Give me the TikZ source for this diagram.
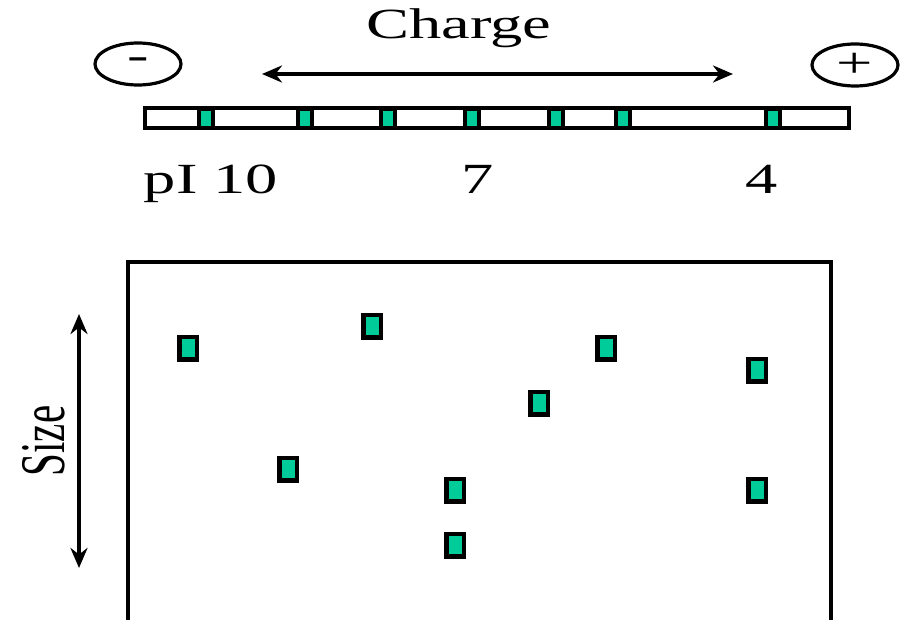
\documentclass[tikz,border=0pt]{standalone}
\usepackage{fontspec}
\setmainfont{Liberation Serif}
\usepackage{graphicx}
\usetikzlibrary{shapes.geometric,arrows.meta}
\definecolor{spotgreen}{RGB}{0,204,153}
\newcommand{\wide}[1]{\scalebox{1.5}[1]{#1}}
\tikzset{
  lbl/.style={inner sep=0pt, font=\fontsize{43}{46}\selectfont},
  pole/.style={ellipse, draw, line width=3.2pt, minimum width=86pt, minimum height=42pt, inner sep=0pt,
    font=\fontsize{43}{46}\selectfont},
  stripbox/.style={draw, line width=4pt, fill=white},
  band/.style={rectangle, draw, line width=4pt, fill=spotgreen, minimum width=14pt, minimum height=19pt, inner sep=0pt},
  spot/.style={rectangle, draw, line width=4.5pt, fill=spotgreen, minimum width=17.5pt, minimum height=22.5pt, inner sep=0pt},
  axis/.style={line width=3.5pt, {Stealth[length=20pt,width=17pt]}-{Stealth[length=20pt,width=17pt]}}
}
\begin{document}
\begin{tikzpicture}[x=1pt,y=-1pt]
  \useasboundingbox (0,0) rectangle (907,620);
  \clip (0,0) rectangle (907,620);

  % charge axis and electrode signs
  \node[lbl] (charge) at (459,28) {\wide{Charge}};
  \node[pole] (minus) at (138,64) {\wide{-}};
  \node[pole] (plus) at (855,65) {\wide{+}};
  \coordinate (chL) at (262,74);
  \coordinate (chR) at (733,74);
  \draw[axis] (chL) -- (chR);

  % isoelectric focusing strip
  \draw[stripbox] (145,108.5) rectangle (849,128.5);
  \foreach \x [count=\i] in {206,305,388,472,556,623,773}
    \node[band] (b\i) at (\x,118.5) {};

  % pI scale
  \node[lbl, anchor=base] (pi10) at (211,194) {\wide{pI 10}};
  \node[lbl, anchor=base] (pi7) at (478,194) {\wide{7}};
  \node[lbl, anchor=base] (pi4) at (762,194) {\wide{4}};

  % second dimension gel
  \draw[line width=4pt] (128,640) -- (128,262) -- (831,262) -- (831,640);

  % size axis
  \coordinate (szT) at (79,314);
  \coordinate (szB) at (79,568);
  \draw[axis] (szT) -- (szB);
  \node[inner sep=0pt, font=\fontsize{41}{44}\selectfont] (size) at (44,441)
    {\scalebox{1.55}[1]{\rotatebox{90}{Size}}};

  % protein spots
  \node[spot] (s1) at (188,348) {};
  \node[spot] (s2) at (372,326) {};
  \node[spot] (s3) at (606,348) {};
  \node[spot] (s4) at (757,370) {};
  \node[spot] (s5) at (539,403) {};
  \node[spot] (s6) at (288,469) {};
  \node[spot] (s7) at (455,490) {};
  \node[spot] (s8) at (757,490) {};
  \node[spot] (s9) at (455,545) {};
\end{tikzpicture}
\end{document}
